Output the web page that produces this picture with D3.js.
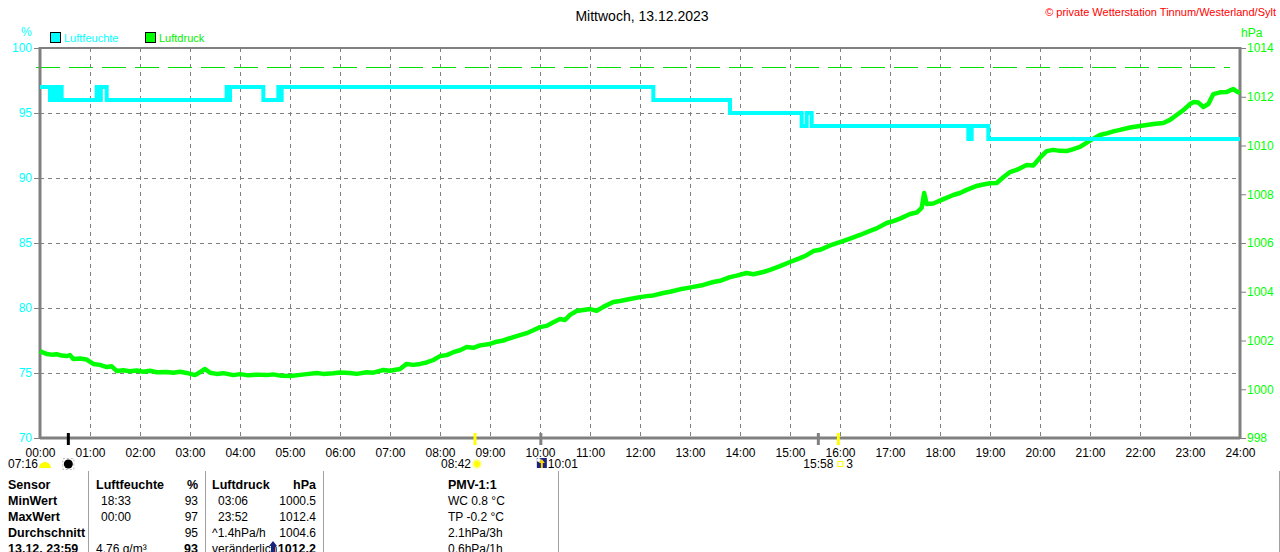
<!DOCTYPE html>
<html><head><meta charset="utf-8">
<script src="https://cdn.jsdelivr.net/npm/d3@7"></script>
<style>
html,body{margin:0;padding:0;background:#fff;}
svg{display:block;font-family:"Liberation Sans",Arial,sans-serif;}
</style></head>
<body>
<svg id="c" width="1280" height="552"></svg>
<script>
// ---------- DATA ----------
const title = "Mittwoch, 13.12.2023";
const copyright = "\u00A9 private Wetterstation Tinnum/Westerland/Sylt";
const hourLabels = ["00:00","01:00","02:00","03:00","04:00","05:00","06:00","07:00","08:00","09:00","10:00","11:00","12:00","13:00","14:00","15:00","16:00","17:00","18:00","19:00","20:00","21:00","22:00","23:00","24:00"];
const humTicks = [70,75,80,85,90,95,100];
const presTicks = [998,1000,1002,1004,1006,1008,1010,1012,1014];
const refPressure = 1013.2;

const humTimes = ["00:00","00:12","00:14","00:17","00:19","00:22","00:24","00:26","01:08","01:11","01:13","01:20","03:44","03:46","03:48","04:28","04:46","04:48","04:50","12:16","13:48","15:14","15:20","15:26","18:34","18:38","18:58","24:00"];
const humValues = [97,96,97,96,97,96,97,96,97,96,97,96,97,96,97,96,97,96,97,96,95,94,95,94,93,94,93,93];

const presTimes = ["00:00","00:04","00:08","00:14","00:20","00:26","00:32","00:36","00:40","00:48","00:56","01:04","01:12","01:20","01:26","01:32","01:40","01:48","01:56","02:04","02:12","02:20","02:32","02:40","02:48","02:56","03:06","03:12","03:18","03:24","03:32","03:40","03:52","04:00","04:10","04:20","04:32","04:40","04:50","05:00","05:10","05:20","05:32","05:40","05:52","06:00","06:12","06:20","06:32","06:40","06:52","07:00","07:12","07:20","07:28","07:36","07:44","07:52","08:00","08:08","08:16","08:24","08:32","08:40","08:48","09:00","09:08","09:16","09:28","09:36","09:44","09:52","10:00","10:08","10:16","10:24","10:30","10:36","10:44","10:52","11:00","11:08","11:16","11:28","11:36","11:48","12:00","12:08","12:16","12:28","12:36","12:48","12:56","13:04","13:16","13:28","13:36","13:48","13:56","14:08","14:16","14:28","14:36","14:48","15:00","15:12","15:20","15:28","15:36","15:48","16:00","16:12","16:24","16:36","16:44","16:56","17:04","17:12","17:24","17:32","17:38","17:41","17:44","17:52","18:04","18:16","18:24","18:32","18:44","18:52","19:00","19:08","19:16","19:24","19:32","19:44","19:52","20:00","20:08","20:16","20:24","20:32","20:40","20:48","21:00","21:12","21:20","21:28","21:36","21:48","22:00","22:08","22:16","22:28","22:36","22:44","22:52","23:00","23:04","23:10","23:16","23:22","23:28","23:36","23:44","23:48","23:52","23:56","24:00"];
const presValues = [1001.57,1001.50,1001.45,1001.42,1001.44,1001.38,1001.36,1001.40,1001.24,1001.26,1001.22,1001.04,1001.00,1000.91,1000.94,1000.75,1000.78,1000.74,1000.77,1000.72,1000.76,1000.70,1000.71,1000.68,1000.72,1000.67,1000.58,1000.70,1000.83,1000.68,1000.63,1000.66,1000.58,1000.62,1000.57,1000.60,1000.58,1000.61,1000.55,1000.54,1000.58,1000.62,1000.67,1000.63,1000.66,1000.69,1000.67,1000.63,1000.70,1000.68,1000.79,1000.76,1000.83,1001.04,1001.00,1001.04,1001.10,1001.20,1001.36,1001.40,1001.52,1001.60,1001.73,1001.70,1001.80,1001.86,1001.95,1002.00,1002.14,1002.22,1002.30,1002.42,1002.55,1002.60,1002.75,1002.88,1002.84,1003.05,1003.21,1003.25,1003.29,1003.22,1003.38,1003.58,1003.62,1003.70,1003.78,1003.82,1003.85,1003.95,1004.00,1004.10,1004.15,1004.20,1004.28,1004.40,1004.45,1004.60,1004.66,1004.77,1004.72,1004.81,1004.90,1005.05,1005.22,1005.38,1005.50,1005.67,1005.72,1005.90,1006.04,1006.18,1006.33,1006.50,1006.60,1006.82,1006.90,1007.00,1007.19,1007.25,1007.44,1008.05,1007.60,1007.62,1007.80,1007.97,1008.05,1008.18,1008.34,1008.40,1008.45,1008.46,1008.70,1008.91,1009.00,1009.20,1009.18,1009.50,1009.77,1009.82,1009.78,1009.77,1009.85,1009.94,1010.20,1010.43,1010.50,1010.58,1010.64,1010.74,1010.80,1010.84,1010.88,1010.92,1011.05,1011.25,1011.45,1011.70,1011.78,1011.76,1011.58,1011.70,1012.11,1012.18,1012.19,1012.26,1012.32,1012.22,1012.15];

// astronomical events below the axis
const eventTimes = ["00:34","08:42","10:01","15:34","15:58"];
const eventColors = ["#000000","#ffff00","#808080","#808080","#ffff00"];

// table
const tableRows = [
  ["Sensor","Luftfeuchte","","%","Luftdruck","","hPa","PMV-1:1"],
  ["MinWert","","18:33","93","","03:06","1000.5","WC 0.8 \u00B0C"],
  ["MaxWert","","00:00","97","","23:52","1012.4","TP -0.2 \u00B0C"],
  ["Durchschnitt","","","95","^1.4hPa/h","","1004.6","2.1hPa/3h"],
  ["13.12. 23:59","4.76 g/m\u00B3","","93","ver\u00E4nderlich","","1012.2","0.6hPa/1h"]
];

// ---------- DRAW ----------
const toMin = s => { const [h,m] = s.split(":").map(Number); return h*60+m; };
const svg = d3.select("#c");
const L = 40, R = 1240, T = 48, B = 438;
const x = d3.scaleLinear().domain([0,1440]).range([L,R]);
const yH = d3.scaleLinear().domain([70,100]).range([B,T]);
const yP = d3.scaleLinear().domain([998,1014]).range([B,T]);
const CYAN = "#00ffff", GREEN = "#00ff00", GRAY = "#808080";

// gridlines
svg.append("g").selectAll("line").data(d3.range(60,1440,60)).join("line")
  .attr("x1",d=>x(d)).attr("x2",d=>x(d)).attr("y1",T).attr("y2",B)
  .attr("stroke",GRAY).attr("stroke-dasharray","4,4").attr("shape-rendering","crispEdges");
svg.append("g").selectAll("line").data(humTicks.filter(d=>d>70&&d<100)).join("line")
  .attr("x1",L).attr("x2",R).attr("y1",d=>yH(d)).attr("y2",d=>yH(d))
  .attr("stroke",GRAY).attr("stroke-dasharray","4,4").attr("shape-rendering","crispEdges");

// reference pressure dashed line
svg.append("line").attr("x1",36).attr("x2",1230).attr("y1",Math.round(yP(refPressure))+0.5).attr("y2",Math.round(yP(refPressure))+0.5)
  .attr("stroke","#00e000").attr("stroke-dasharray","24,9").attr("shape-rendering","crispEdges");

// frame
svg.append("line").attr("x1",L).attr("x2",R).attr("y1",T).attr("y2",T).attr("stroke",GRAY).attr("stroke-width",2);
svg.append("line").attr("x1",L).attr("x2",L).attr("y1",T-1).attr("y2",B+1).attr("stroke",GRAY).attr("stroke-width",3);
svg.append("line").attr("x1",R).attr("x2",R).attr("y1",T-1).attr("y2",B+1).attr("stroke",GRAY).attr("stroke-width",3);
svg.append("line").attr("x1",L).attr("x2",R).attr("y1",B).attr("y2",B).attr("stroke",GRAY).attr("stroke-width",3);

// axes
const axL = svg.append("g").attr("transform",`translate(${L-1},0)`)
  .call(d3.axisLeft(yH).tickValues(humTicks).tickSize(5).tickPadding(2));
axL.select(".domain").remove();
axL.selectAll("line").attr("stroke",GRAY);
axL.selectAll("text").attr("fill",CYAN).attr("font-size",12).attr("font-family","Liberation Sans, Arial");

const axR = svg.append("g").attr("transform",`translate(${R+1},0)`)
  .call(d3.axisRight(yP).tickValues(presTicks).tickFormat(d3.format("d")).tickSize(5).tickPadding(1));
axR.select(".domain").remove();
axR.selectAll("line").attr("stroke",GRAY);
axR.selectAll("text").attr("fill",GREEN).attr("font-size",12).attr("font-family","Liberation Sans, Arial");

const axB = svg.append("g").attr("transform",`translate(0,${B+1})`)
  .call(d3.axisBottom(x).tickValues(d3.range(0,1441,60)).tickFormat((d,i)=>hourLabels[i]).tickSize(0).tickPadding(9));
axB.select(".domain").remove();
axB.selectAll("text").attr("fill","#000").attr("font-size",12).attr("font-family","Liberation Sans, Arial");

// series
const hum = humTimes.map((t,i)=>({t:toMin(t),v:humValues[i]}));
const pres = presTimes.map((t,i)=>({t:toMin(t),v:presValues[i]}));
svg.append("path").datum(pres)
  .attr("d",d3.line().x(d=>x(d.t)).y(d=>yP(d.v)))
  .attr("fill","none").attr("stroke",GREEN).attr("stroke-width",4.5).attr("stroke-linejoin","round");
svg.append("path").datum(hum)
  .attr("d",d3.line().x(d=>x(d.t)).y(d=>yH(d.v)).curve(d3.curveStepAfter))
  .attr("fill","none").attr("stroke",CYAN).attr("stroke-width",4);

// axis unit labels
svg.append("text").attr("x",21).attr("y",36).attr("fill",CYAN).attr("font-size",12).text("%");
svg.append("text").attr("x",1241).attr("y",37).attr("fill",GREEN).attr("font-size",12).text("hPa");

// legend
svg.append("rect").attr("x",50.5).attr("y",32.5).attr("width",10).attr("height",10).attr("fill",CYAN).attr("stroke","#000");
svg.append("text").attr("x",64).attr("y",42).attr("fill",CYAN).attr("font-size",11).text("Luftfeuchte");
svg.append("rect").attr("x",145.5).attr("y",32.5).attr("width",10).attr("height",10).attr("fill",GREEN).attr("stroke","#000");
svg.append("text").attr("x",159).attr("y",42).attr("fill","#00ee00").attr("font-size",11).text("Luftdruck");

// title and copyright
svg.append("text").attr("x",642).attr("y",21).attr("text-anchor","middle").attr("font-size",14).attr("fill","#000").text(title);
svg.append("text").attr("x",1276).attr("y",16).attr("text-anchor","end").attr("font-size",11).attr("fill","#ff0000").text(copyright);

// event ticks
svg.append("g").selectAll("line").data(eventTimes).join("line")
  .attr("x1",d=>x(toMin(d))).attr("x2",d=>x(toMin(d))).attr("y1",433).attr("y2",445)
  .attr("stroke",(d,i)=>eventColors[i]).attr("stroke-width",3);

// event labels & icons
const ev = svg.append("g").attr("font-size",12).attr("fill","#000");
ev.append("text").attr("x",8).attr("y",468).text("07:16");
ev.append("path").attr("d","M39,468 A6,6 0 0 1 51,468 Z").attr("fill","#ffff00");
// moon
const mx = x(toMin(eventTimes[0]));
ev.append("rect").attr("x",mx-5.5).attr("y",458.5).attr("width",11).attr("height",11).attr("fill","none").attr("stroke","#bbb").attr("stroke-dasharray","2,2");
ev.append("circle").attr("cx",mx).attr("cy",464).attr("r",4.5).attr("fill","#000");
// sunrise
const sx = x(toMin(eventTimes[1]));
ev.append("text").attr("x",sx-4).attr("y",468).attr("text-anchor","end").text(eventTimes[1]);
ev.append("circle").attr("cx",sx+2).attr("cy",464).attr("r",4).attr("fill","#ffff00").attr("stroke","#ffff99").attr("stroke-width",2);
// moonrise
const rx = x(toMin(eventTimes[2]));
ev.append("rect").attr("x",rx-4).attr("y",458).attr("width",10).attr("height",10).attr("fill","#1a237e");
ev.append("circle").attr("cx",rx-2).attr("cy",460).attr("r",2).attr("fill","#fff");
ev.append("path").attr("d",`M${rx+1},459 L${rx+4},463 L${rx+2},463 L${rx+2},468 L${rx},468 L${rx},463 L${rx-2},463 Z`).attr("fill","#ffd700");
ev.append("text").attr("x",rx+7).attr("y",468).text(eventTimes[2]);
// sunset
const ssx = x(toMin(eventTimes[4]));
ev.append("text").attr("x",ssx-5).attr("y",468).attr("text-anchor","end").text(eventTimes[4]);
ev.append("rect").attr("x",ssx-0.5).attr("y",461.5).attr("width",5).attr("height",5).attr("fill","none").attr("stroke","#ffff00");
ev.append("text").attr("x",ssx+8).attr("y",468).text("3");

// table separators
svg.append("g").selectAll("line").data([88,205,323,558,1279]).join("line")
  .attr("x1",d=>d+0.5).attr("x2",d=>d+0.5).attr("y1",471).attr("y2",552).attr("stroke","#a0a0a0");

// table text
const tb = svg.append("g").attr("font-size",12).attr("fill","#000");
const colX = [8,96,101,198,212,218,316,448];
const colAnchor = ["start","start","start","end","start","start","end","start"];
tableRows.forEach((row,ri)=>{
  row.forEach((cell,ci)=>{
    if(!cell) return;
    let bold = ri===0 || ci===0 || (ri===4 && (ci===3||ci===6));
    if(ri>0 && ci===7) bold = false;
    tb.append("text").attr("x",colX[ci]).attr("y",489+ri*16)
      .attr("text-anchor",colAnchor[ci]).attr("font-weight",bold?"bold":"normal")
      .attr("font-size", bold ? 12.5 : 12).text(cell);
  });
});
// arrow icon next to 'veränderlich'
tb.append("path").attr("d","M273,541 L277,546 L275,546 L275,552 L271,552 L271,546 L269,546 Z").attr("fill","#1a237e");
</script>
</body></html>
